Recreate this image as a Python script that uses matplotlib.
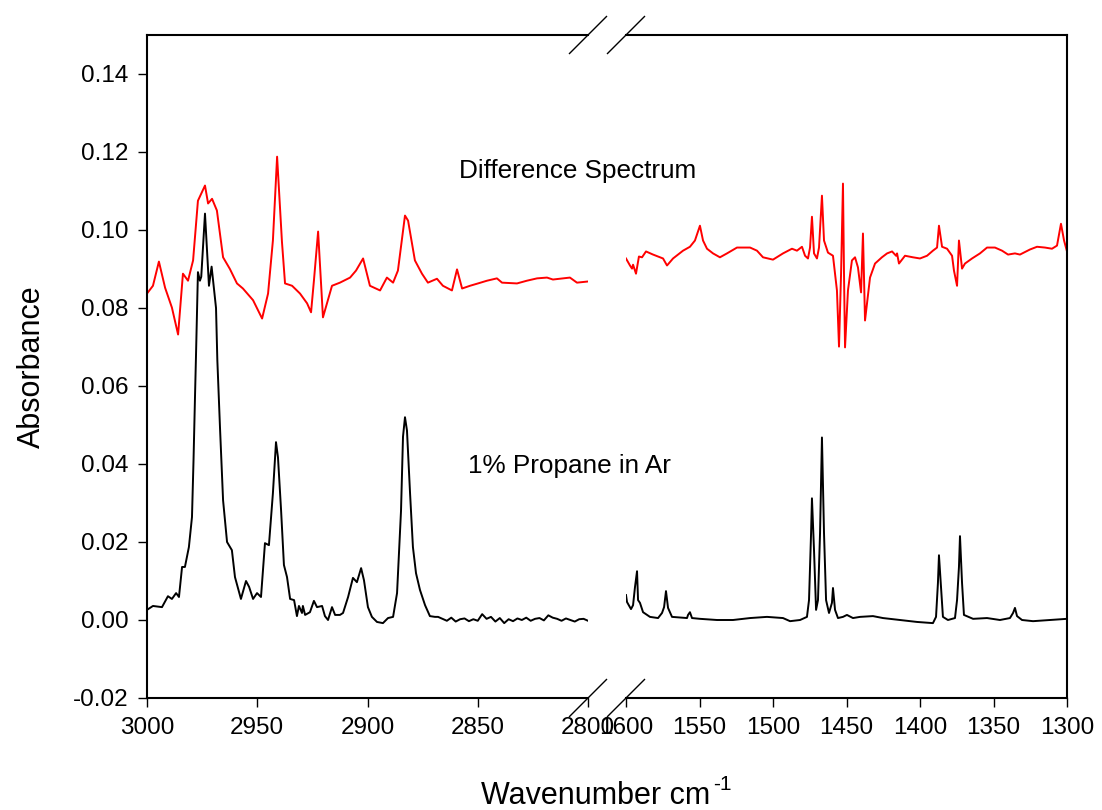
import numpy as np
import matplotlib
matplotlib.use('Agg')
import matplotlib.pyplot as plt

plt.rcParams['font.family'] = ['Liberation Sans', 'DejaVu Sans']
plt.rcParams['axes.unicode_minus'] = False


# ============================================================
# Data
# ============================================================

# C-H stretch region, difference spectrum (red)
wn_ch_diff = [3000.0, 2997.3, 2994.6, 2991.8, 2988.7, 2985.9, 2983.7, 2981.4, 2979.1, 2976.9,
              2973.7, 2972.3, 2970.5, 2968.3, 2965.5, 2962.4, 2959.2, 2956.5, 2951.9, 2947.8,
              2945.1, 2942.9, 2941.0, 2938.8, 2937.4, 2934.2, 2930.6, 2927.4, 2925.6, 2924.3,
              2922.4, 2920.2, 2916.1, 2912.5, 2907.9, 2905.2, 2902.0, 2898.9, 2894.3, 2891.2,
              2888.4, 2886.2, 2883.0, 2881.6, 2878.5, 2875.3, 2872.6, 2868.5, 2865.8, 2861.7,
              2859.4, 2857.1, 2853.5, 2849.9, 2845.8, 2841.3, 2839.0, 2832.2, 2827.7, 2823.1,
              2818.6, 2815.9, 2808.2, 2805.0, 2800.0]
abs_ch_diff = [0.0837, 0.0857, 0.0919, 0.0852, 0.0801, 0.0732, 0.0888, 0.0870, 0.0922, 0.1075,
               0.1114, 0.1068, 0.1080, 0.1050, 0.0930, 0.0900, 0.0863, 0.0850, 0.0820, 0.0773,
               0.0837, 0.0973, 0.1188, 0.0970, 0.0863, 0.0857, 0.0837, 0.0812, 0.0789, 0.0870,
               0.0996, 0.0776, 0.0857, 0.0865, 0.0878, 0.0896, 0.0927, 0.0857, 0.0845, 0.0878,
               0.0865, 0.0896, 0.1037, 0.1024, 0.0922, 0.0888, 0.0865, 0.0875, 0.0857, 0.0845,
               0.0899, 0.0850, 0.0857, 0.0863, 0.0870, 0.0876, 0.0865, 0.0863, 0.0870, 0.0876,
               0.0878, 0.0873, 0.0878, 0.0865, 0.0868]

# C-H stretch region, 1% propane in Ar (black)
wn_ch_prop = [3000.0, 2997.3, 2993.2, 2990.5, 2988.7, 2986.8, 2985.5, 2984.1, 2982.8, 2981.0,
              2979.6, 2978.9, 2978.2, 2977.8, 2976.9, 2976.0, 2975.4, 2973.7, 2971.9, 2970.7,
              2968.7, 2968.1, 2966.9, 2965.5, 2963.7, 2961.5, 2960.1, 2957.4, 2955.1, 2953.7,
              2951.9, 2950.1, 2948.3, 2946.5, 2944.7, 2942.9, 2941.5, 2940.6, 2939.2, 2937.9,
              2936.5, 2935.1, 2933.3, 2932.0, 2931.1, 2929.7, 2929.3, 2928.3, 2926.1, 2924.3,
              2922.9, 2920.6, 2919.3, 2917.9, 2916.1, 2914.7, 2912.5, 2911.1, 2908.8, 2906.6,
              2904.8, 2902.9, 2901.6, 2899.8, 2898.0, 2895.7, 2893.0, 2890.7, 2888.4, 2886.6,
              2884.8, 2883.9, 2883.0, 2882.1, 2880.7, 2879.4, 2878.0, 2876.2, 2873.9, 2871.7,
              2869.4, 2868.0, 2866.0, 2864.0, 2862.0, 2860.0, 2858.0, 2856.0, 2854.0, 2852.0,
              2850.0, 2848.0, 2846.0, 2844.0, 2842.0, 2840.0, 2838.0, 2836.0, 2834.0, 2832.0,
              2830.0, 2828.0, 2826.0, 2824.0, 2822.0, 2820.0, 2818.0, 2816.0, 2814.0, 2812.0,
              2810.0, 2808.0, 2806.0, 2804.0, 2802.0, 2800.0]
abs_ch_prop = [0.0026, 0.0036, 0.0033, 0.0061, 0.0054, 0.0069, 0.0059, 0.0136, 0.0136, 0.0187,
               0.0264, 0.0410, 0.0580, 0.0673, 0.0892, 0.0870, 0.0880, 0.1042, 0.0857, 0.0906,
               0.0800, 0.0666, 0.0494, 0.0307, 0.0200, 0.0179, 0.0110, 0.0054, 0.0100, 0.0085,
               0.0054, 0.0069, 0.0059, 0.0197, 0.0192, 0.0325, 0.0456, 0.0417, 0.0282, 0.0141,
               0.0110, 0.0054, 0.0051, 0.0010, 0.0036, 0.0018, 0.0036, 0.0013, 0.0020, 0.0049,
               0.0033, 0.0036, 0.0010, 0.0000, 0.0033, 0.0013, 0.0013, 0.0018, 0.0059, 0.0108,
               0.0097, 0.0133, 0.0102, 0.0033, 0.0008, -0.0005, -0.0008, 0.0005, 0.0008, 0.0069,
               0.0280, 0.0470, 0.0520, 0.0486, 0.0325, 0.0187, 0.0120, 0.0077, 0.0038, 0.0010,
               0.0008, 0.0008, 0.0003, -0.0002, 0.0006, -0.0004, 0.0002, 0.0004, -0.0003, 0.0002,
               -0.0002, 0.0015, 0.0003, 0.0008, -0.0004, 0.0005, -0.0008, 0.0002, -0.0003, 0.0004,
               0.0000, 0.0006, -0.0002, 0.0003, 0.0005, -0.0001, 0.0012, 0.0006, 0.0003, -0.0002,
               0.0004, 0.0000, -0.0004, 0.0002, 0.0003, -0.0002]

# deformation region, difference spectrum (red)
wn_def_diff = [1600.0, 1597.3, 1595.9, 1595.2, 1593.2, 1591.2, 1589.1, 1586.4, 1581.6, 1574.8,
               1572.1, 1568.0, 1561.2, 1556.5, 1553.1, 1549.7, 1547.6, 1544.9, 1540.8, 1536.1,
               1531.3, 1524.5, 1515.6, 1510.9, 1506.8, 1500.0, 1493.2, 1487.1, 1483.7, 1480.3,
               1478.2, 1476.2, 1474.8, 1473.5, 1472.1, 1470.1, 1468.7, 1466.7, 1465.3, 1462.6,
               1459.2, 1456.5, 1455.1, 1453.7, 1452.4, 1451.7, 1451.0, 1449.0, 1446.3, 1444.2,
               1442.2, 1440.1, 1438.8, 1437.4, 1434.0, 1430.6, 1425.9, 1422.4, 1419.0, 1416.3,
               1415.6, 1414.3, 1410.2, 1404.8, 1400.0, 1395.2, 1391.2, 1388.4, 1387.1, 1385.0,
               1381.6, 1378.2, 1376.9, 1374.8, 1373.5, 1371.4, 1369.4, 1364.6, 1359.2, 1354.4,
               1349.0, 1344.2, 1340.1, 1335.4, 1332.0, 1325.2, 1320.4, 1315.0, 1310.2, 1306.8,
               1304.1, 1302.0, 1300.0]
abs_def_diff = [0.0927, 0.0909, 0.0901, 0.0911, 0.0888, 0.0932, 0.0930, 0.0945, 0.0937, 0.0927,
                0.0909, 0.0927, 0.0947, 0.0957, 0.0973, 0.1011, 0.0973, 0.0952, 0.0940, 0.0930,
                0.0940, 0.0955, 0.0955, 0.0947, 0.0930, 0.0924, 0.0940, 0.0952, 0.0947, 0.0957,
                0.0934, 0.0927, 0.0955, 0.1034, 0.0940, 0.0927, 0.0955, 0.1088, 0.0973, 0.0942,
                0.0934, 0.0845, 0.0701, 0.0888, 0.1119, 0.0888, 0.0699, 0.0845, 0.0922, 0.0930,
                0.0904, 0.0840, 0.0991, 0.0768, 0.0878, 0.0914, 0.0930, 0.0940, 0.0945, 0.0934,
                0.0940, 0.0914, 0.0934, 0.0930, 0.0927, 0.0934, 0.0947, 0.0955, 0.1011, 0.0957,
                0.0952, 0.0934, 0.0896, 0.0857, 0.0973, 0.0901, 0.0914, 0.0927, 0.0940, 0.0955,
                0.0955, 0.0947, 0.0937, 0.0940, 0.0937, 0.0950, 0.0957, 0.0955, 0.0952, 0.0960,
                0.1016, 0.0973, 0.0945]

# deformation region, 1% propane in Ar (black)
wn_def_prop = [1600.0, 1599.3, 1596.6, 1595.2, 1593.9, 1592.5, 1591.8, 1590.5, 1588.4, 1583.7,
               1578.2, 1575.5, 1574.1, 1572.8, 1571.4, 1568.7, 1558.5, 1557.8, 1556.5, 1555.1,
               1549.7, 1538.1, 1527.2, 1515.6, 1504.1, 1493.2, 1488.4, 1481.6, 1476.9, 1475.5,
               1474.1, 1473.5, 1472.1, 1470.7, 1469.4, 1468.0, 1466.7, 1465.3, 1463.9, 1461.9,
               1459.9, 1459.2, 1457.8, 1455.8, 1452.4, 1449.7, 1445.6, 1440.8, 1432.0, 1425.2,
               1413.6, 1402.0, 1391.2, 1389.1, 1387.8, 1387.1, 1385.7, 1384.4, 1381.0, 1376.2,
               1374.8, 1373.5, 1372.8, 1371.4, 1370.1, 1363.9, 1354.4, 1345.6, 1338.8, 1336.7,
               1335.4, 1334.0, 1330.6, 1323.1, 1311.6, 1300.0]
abs_def_prop = [0.0064, 0.0046, 0.0028, 0.0038, 0.0084, 0.0125, 0.0051, 0.0044, 0.0020, 0.0008,
                0.0005, 0.0018, 0.0033, 0.0074, 0.0031, 0.0008, 0.0005, 0.0013, 0.0020, 0.0005,
                0.0003, 0.0000, 0.0000, 0.0005, 0.0008, 0.0005, -0.0003, 0.0000, 0.0008, 0.0051,
                0.0223, 0.0312, 0.0179, 0.0026, 0.0051, 0.0223, 0.0468, 0.0223, 0.0051, 0.0018,
                0.0044, 0.0082, 0.0026, 0.0005, 0.0008, 0.0013, 0.0005, 0.0008, 0.0010, 0.0005,
                0.0000, -0.0005, -0.0008, 0.0008, 0.0095, 0.0166, 0.0084, 0.0008, 0.0000, 0.0005,
                0.0051, 0.0136, 0.0215, 0.0095, 0.0013, 0.0003, 0.0005, 0.0000, 0.0005, 0.0018,
                0.0031, 0.0010, 0.0000, -0.0003, 0.0000, 0.0003]

left_ticks = [3000, 2950, 2900, 2850, 2800]
right_ticks = [1600, 1550, 1500, 1450, 1400, 1350, 1300]
y_ticks = [-0.02, 0.00, 0.02, 0.04, 0.06, 0.08, 0.10, 0.12, 0.14]


# ============================================================
# Figure / axes
# ============================================================

W, H = 1102, 810
fig = plt.figure(figsize=(W / 100, H / 100), dpi=100)

ax_bot = 1 - 698 / H
ax_h = (698 - 35) / H
ax1 = fig.add_axes([147 / W, ax_bot, 441 / W, ax_h])
ax2 = fig.add_axes([626 / W, ax_bot, 441 / W, ax_h])

LW = 1.4
ax1.plot(wn_ch_diff, abs_ch_diff, color='red', lw=LW)
ax1.plot(wn_ch_prop, abs_ch_prop, color='black', lw=LW)
ax2.plot(wn_def_diff, abs_def_diff, color='red', lw=LW)
ax2.plot(wn_def_prop, abs_def_prop, color='black', lw=LW)

ax1.set_xlim(3000, 2800)
ax2.set_xlim(1600, 1300)
for ax in (ax1, ax2):
    ax.set_ylim(-0.02, 0.15)
    for s in ax.spines.values():
        s.set_linewidth(1.5)
    ax.tick_params(axis='both', direction='out', length=6.5, width=1.0,
                   labelsize=17.5, pad=7)

ax1.spines['right'].set_visible(False)
ax2.spines['left'].set_visible(False)
ax1.set_xticks(left_ticks)
ax2.set_xticks(right_ticks)
ax1.set_yticks(y_ticks)
ax1.set_yticklabels([f'{v:.2f}' for v in y_ticks])
ax2.set_yticks([])
ax2.tick_params(axis='y', left=False, right=False)

# break marks on the x axes (top and bottom)
dx = 18.5 / 441
dy = 18.5 / 663
kw = dict(color='black', lw=1.0, clip_on=False)
for yy in (0, 1):
    ax1.plot([1 - dx, 1 + dx], [yy - dy, yy + dy], transform=ax1.transAxes, **kw)
    ax2.plot([-dx, dx], [yy - dy, yy + dy], transform=ax2.transAxes, **kw)

# labels
fig.text(481 / W, 1 - 804 / H, 'Wavenumber cm', ha='left', va='baseline', fontsize=22)
fig.text(713 / W, 1 - 790 / H, '-1', ha='left', va='baseline', fontsize=15)
fig.text(32 / W, 1 - 367 / H, 'Absorbance', rotation=90, ha='center', va='center',
         fontsize=22)
# annotations span the axis break, so draw them at figure level in ax1 data units
fig.text(2804.5, 0.115, 'Difference Spectrum', ha='center', va='center',
         fontsize=18.8, transform=ax1.transData)
fig.text(2808.6, 0.0394, '1% Propane in Ar', ha='center', va='center',
         fontsize=18.8, transform=ax1.transData)

fig.savefig('out.png', dpi=100)
